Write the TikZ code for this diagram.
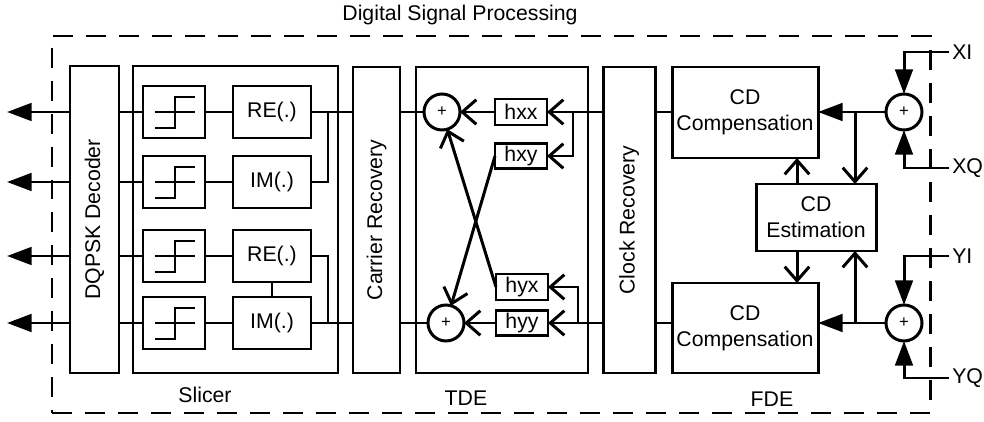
\documentclass[tikz,border=0pt]{standalone}
\usepackage{fontspec}
\setmainfont{Liberation Sans}
\usepackage{graphicx}
\usetikzlibrary{arrows.meta,calc}
\begin{document}
\begin{tikzpicture}[x=0.02cm,y=-0.02cm, line width=1.7pt,
  font=\fontsize{12.1}{14.7}\selectfont,
  box/.style={draw, rectangle, inner sep=0pt, outer sep=0pt, align=center},
  sz/.style 2 args={minimum width=#1*0.02cm, minimum height=#2*0.02cm},
  sumnode/.style={draw, circle, inner sep=0pt, outer sep=0pt, minimum size=36*0.02cm, font=\fontsize{9.5}{9.5}\selectfont},
  filltip/.style={-{Triangle[length=14pt,width=10pt]}},
  opentip/.style={-{Straight Barb[length=8pt,width=14pt]}},
  lbl/.style={inner sep=1pt},
  thinline/.style={line width=0.6pt},
  dsp/.style={draw, dash pattern=on 0.4cm off 0.26cm, inner sep=0pt, outer sep=0pt}
]
\useasboundingbox (0,0) rectangle (984,422);

% outer dashed frame and title
\node[dsp, sz={878}{377}] (dspbox) at (491,224.5) {};
\node (ttl) at (460,15) {Digital Signal Processing};

% decoder and slicer
\node[box, sz={49}{307}] (dec) at (94.5,219.5) {\rotatebox{90}{DQPSK Decoder}};
\node[box, sz={205}{307}] (slc) at (235.5,219.5) {};
\node (slclbl) at (205,395) {Slicer};

\node[box, sz={62}{52}] (s1) at (174,112) {};
\node[box, sz={62}{52}] (s2) at (174,182) {};
\node[box, sz={62}{52}] (s3) at (174,256) {};
\node[box, sz={62}{52}] (s4) at (174,323) {};

\node[box, sz={78}{52}] (r1) at (272,112) {RE(.)};
\node[box, sz={78}{52}] (i2) at (272,182) {IM(.)};
\node[box, sz={78}{52}] (r3) at (272,256) {RE(.)};
\node[box, sz={78}{52}] (i4) at (272,323) {IM(.)};

% carrier recovery, TDE, clock recovery
\node[box, sz={47}{306}] (cr) at (376.5,220) {\rotatebox{90}{Carrier Recovery}};
\node[box, sz={172}{306}] (tde) at (502,220) {};
\node (tdelbl) at (466,398) {TDE};
\node[sumnode] (sx) at (442,112) {+};
\node[sumnode] (sy) at (446,323) {+};
\node[box, sz={52}{26}] (hxx) at (521,112) {hxx};
\node[box, sz={52}{25}] (hxy) at (521,156) {hxy};
\node[box, sz={52}{26}] (hyx) at (522,287) {hyx};
\node[box, sz={52}{25}] (hyy) at (522,323) {hyy};
\node[box, sz={52}{306}] (clk) at (629,220) {\rotatebox{90}{Clock Recovery}};

% FDE
\node[box, sz={146}{91}] (cdc1) at (745,112.5) {CD\\Compensation};
\node[box, sz={120}{67}] (cde) at (816,217.5) {CD\\Estimation};
\node[box, sz={146}{90}] (cdc2) at (745,328) {CD\\Compensation};
\node[sumnode] (sm1) at (904,112) {+};
\node[sumnode] (sm2) at (904,323) {+};
\node (fdelbl) at (772,399) {FDE};
\node[lbl, anchor=west] (xi) at (949,52) {XI};
\node[lbl, anchor=west] (xq) at (949,168) {XQ};
\node[lbl, anchor=west] (yi) at (949,256) {YI};
\node[lbl, anchor=west] (yq) at (949,378) {YQ};

% step symbols
\foreach \n in {s1,s2,s3,s4} {
  \draw ($(\n)+(-19,16)$) -- ++(20,0) -- ++(0,-31) -- ++(20,0);
  \draw ($(\n)+(-19,0)$) -- ++(40,0);
}

% outputs
\coordinate (out1) at (7,112);
\coordinate (out2) at (7,182);
\coordinate (out3) at (7,256);
\coordinate (out4) at (7,323);
\foreach \n/\o in {s1/out1,s2/out2,s3/out3,s4/out4} {
  \draw[filltip] (dec.west |- \n) -- (\o);
  \draw (dec.east |- \n) -- (\n.west);
}
\draw (s1.east) -- (r1.west);
\draw (s2.east) -- (i2.west);
\draw (s3.east) -- (r3.west);
\draw (s4.east) -- (i4.west);

% slicer combining
\coordinate (ja) at (328,112);
\coordinate (jd) at (328,323);
\draw (r1.east) -- (cr.west |- r1);
\draw (i2.east) -| (ja);
\draw (r3.east) -| (jd);
\draw (i4.east) -- (cr.west |- i4);
\draw[thinline] (r3.south) -- (i4.north);

% TDE wiring
\draw (cr.east |- sx) -- (sx.west);
\draw (cr.east |- sy) -- (sy.west);
\coordinate (bx) at (573,112);
\coordinate (by) at (578,323);
\draw[opentip] (clk.west |- hxx) -- (hxx.east);
\draw[opentip] (bx) |- (hxy.east);
\draw[opentip] (hxx.west) -- (sx.east);
\draw[opentip] (clk.west |- hyy) -- (hyy.east);
\draw[opentip] (by) |- (hyx.east);
\draw[opentip] (hyy.west) -- (sy.east);
\draw[opentip] (hxy.west) -- (sy);
\draw[opentip] (hyx.west) -- (sx);

% FDE wiring
\draw (clk.east |- sx) -- (cdc1.west |- sx);
\draw (clk.east |- sy) -- (cdc2.west |- sy);
\draw[filltip] (sm1.west) -- (cdc1.east |- sm1);
\draw[filltip] (sm2.west) -- (cdc2.east |- sm2);
\coordinate (f1) at (855,112);
\coordinate (f2) at (855,323);
\coordinate (e1) at (797,217.5);
\draw[opentip] (f1) -- (f1 |- cde.north);
\draw[opentip] (f2) -- (f2 |- cde.south);
\draw[opentip] (e1 |- cde.north) -- (e1 |- cdc1.south);
\draw[opentip] (e1 |- cde.south) -- (e1 |- cdc2.north);

% inputs
\draw[filltip] (xi.west) -| (sm1.north);
\draw[filltip] (xq.west) -| (sm1.south);
\draw[filltip] (yi.west) -| (sm2.north);
\draw[filltip] (yq.west) -| (sm2.south);
\end{tikzpicture}
\end{document}
